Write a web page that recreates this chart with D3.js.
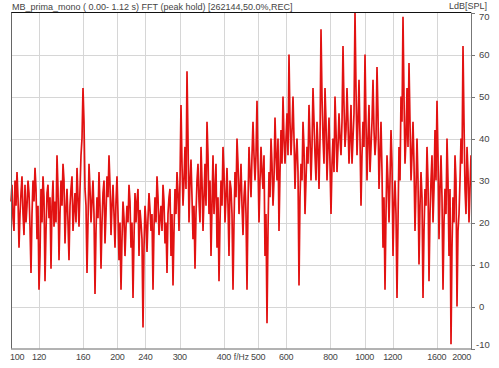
<!DOCTYPE html>
<html>
<head>
<meta charset="utf-8">
<script src="https://cdn.jsdelivr.net/npm/d3@7"></script>
<style>
  body { margin: 0; background: #fff; }
  svg text { font-family: "Liberation Sans", Arial, sans-serif; fill: #444; }
</style>
</head>
<body>
<svg id="chart" width="499" height="368"></svg>
<script>
// spectrum, one level per display column (log-spaced from 100 Hz to 2 kHz)
const fStart = 100, fEnd = 2000;
const levels = [
  25, 29, 21, 18, 30, 24, 32, 26, 14, 22, 27, 31, 22, 17, 29, 20, 24, 30, 27, 19,
  8, 22, 30, 25, 33, 28, 16, 24, 4, 12, 28, 20, 31, 26, 6, 18, 27, 29, 21, 26,
  9, 24, 30, 19, 25, 20, 36, 28, 11, 22, 30, 24, 34, 30, 15, 23, 28, 20, 11, 24,
  28, 31, 18, 23, 27, 20, 33, 26, 19, 28, 36, 40, 52, 44, 28, 24, 8, 20, 34, 28,
  20, 25, 30, 22, 3, 18, 26, 21, 32, 24, 9, 20, 27, 30, 15, 22, 31, 26, 36, 29,
  17, 24, 29, 22, 14, 25, 31, 22, 11, 20, 4, 16, 25, 21, 12, 19, 24, 20, 29, 25,
  14, 20, 2, 16, 27, 20, 25, 28, 12, 23, 20, 16, -5, 14, 24, 20, 13, 21, 27, 23,
  18, 22, 4, 19, 26, 20, 31, 26, 17, 21, 24, 18, 29, 25, 15, 20, 8, 22, 26, 28,
  12, 22, 5, 18, 28, 22, 32, 27, 18, 30, 48, 34, 24, 30, 38, 28, 56, 40, 20, 30,
  35, 26, 16, 24, 9, 22, 30, 34, 25, 20, 38, 30, 18, 26, 34, 24, 44, 36, 22, 30,
  12, 24, 36, 22, 28, 34, 14, 26, 6, 20, 30, 24, 38, 32, 20, 26, 33, 24, 12, 30,
  28, 22, 4, 20, 32, 26, 40, 34, 22, 28, 34, 24, 17, 26, 30, 22, 4, 24, 38, 32,
  26, 36, 44, 36, 30, 36, 49, 34, 20, 30, 38, 32, 28, 36, 12, 22, -4, 18, 32, 26,
  40, 34, 24, 30, 45, 36, 30, 40, 18, 32, 42, 34, 50, 40, 34, 40, 46, 36, 60, 44,
  36, 42, 50, 40, 28, 36, 40, 32, 5, 26, 34, 30, 44, 38, 22, 30, 38, 34, 48, 40,
  30, 38, 52, 44, 36, 30, 44, 38, 28, 40, 66, 50, 40, 34, 52, 44, 30, 38, 45, 34,
  22, 34, 40, 32, 50, 42, 32, 38, 46, 40, 36, 44, 62, 48, 38, 42, 52, 44, 34, 40,
  48, 34, 40, 46, 70, 52, 36, 44, 54, 40, 24, 36, 44, 38, 60, 44, 30, 40, 48, 32,
  38, 44, 54, 42, 36, 40, 57, 46, 28, 36, 44, 32, 14, 26, 4, 22, 36, 30, 20, 30,
  42, 34, 12, 24, 30, 22, 2, 20, 38, 30, 50, 44, 69, 50, 34, 40, 52, 38, 58, 44,
  30, 36, 44, 34, 18, 28, 40, 30, 10, 24, 32, 26, 2, 18, 28, 24, 38, 30, 6, 22,
  30, 36, 20, 28, 42, 30, 49, 36, 16, 28, 36, 26, 4, 20, 28, 22, 40, 30, 12, 28,
  -9, 14, 26, 20, 36, 30, 0, 18, 22, 30, 40, 34, 62, 44, 28, 22, 38, 32, 20, 28,
  36
];
const xTicks = [100, 120, 160, 200, 240, 300, 400, 500, 600, 800, 1000, 1200, 1600, 2000];
const yTicks = [70, 60, 50, 40, 30, 20, 10, 0, -10];

const titleText = "MB_prima_mono ( 0.00- 1.12 s) FFT (peak hold) [262144,50.0%,REC]";
const unitText = "LdB[SPL]";

const spectrum = levels.map((v, i) => ({
  f: fStart * Math.pow(fEnd / fStart, i / (levels.length - 1)),
  v: v
}));

const plotL = 11, plotR = 471, plotT = 12.5, plotB = 348.5;
const svg = d3.select("#chart");

const x = d3.scaleLog().domain([fStart, fEnd]).range([plotL, plotR]);
const y = d3.scaleLinear().domain([-10, 70]).range([plotB, plotT]);

// grid
svg.append("g")
  .selectAll("line")
  .data(xTicks.slice(1, -1))
  .join("line")
  .attr("x1", d => Math.round(x(d)) + 0.5)
  .attr("x2", d => Math.round(x(d)) + 0.5)
  .attr("y1", plotT)
  .attr("y2", plotB)
  .attr("stroke", "#d6d6d6");

svg.append("g")
  .selectAll("line")
  .data(yTicks.slice(1, -1))
  .join("line")
  .attr("x1", plotL)
  .attr("x2", plotR)
  .attr("y1", d => Math.round(y(d)) + 0.5)
  .attr("y2", d => Math.round(y(d)) + 0.5)
  .attr("stroke", "#d6d6d6");

// spectrum line
const line = d3.line()
  .x(d => x(d.f))
  .y(d => y(d.v));

svg.append("path")
  .datum(spectrum)
  .attr("fill", "none")
  .attr("stroke", "#e21212")
  .attr("stroke-width", 1.7)
  .attr("d", line);

// frame
svg.append("line").attr("x1", plotL).attr("x2", plotR).attr("y1", 12.5).attr("y2", 12.5).attr("stroke", "#111");
svg.append("line").attr("x1", plotL + 0.5).attr("x2", plotL + 0.5).attr("y1", plotT).attr("y2", plotB).attr("stroke", "#666");
svg.append("line").attr("x1", plotL).attr("x2", plotR).attr("y1", plotB + 0.5).attr("y2", plotB + 0.5).attr("stroke", "#666");
svg.append("line").attr("x1", plotR + 0.5).attr("x2", plotR + 0.5).attr("y1", plotT).attr("y2", plotB + 1).attr("stroke", "#777");

// right axis
const yAxis = svg.append("g");
yAxis.selectAll("line")
  .data(yTicks)
  .join("line")
  .attr("x1", plotR)
  .attr("x2", plotR + 4)
  .attr("y1", d => Math.round(y(d)) + 0.5)
  .attr("y2", d => Math.round(y(d)) + 0.5)
  .attr("stroke", "#777");
yAxis.selectAll("text")
  .data(yTicks)
  .join("text")
  .attr("x", d => d < 0 ? plotR + 5 : plotR + 8)
  .attr("y", d => d === 70 ? y(d) + 7.5 : d === -10 ? y(d) - 1 : y(d) + 3.5)
  .style("font-size", "9.5px")
  .text(d => d);

// bottom axis
svg.append("g")
  .selectAll("text")
  .data(xTicks)
  .join("text")
  .attr("x", d => d === fStart ? plotL - 1 : d === fEnd ? plotR : x(d))
  .attr("y", 360)
  .attr("text-anchor", d => d === fStart ? "start" : d === fEnd ? "end" : "middle")
  .style("font-size", "9px")
  .style("letter-spacing", "-0.3px")
  .text(d => d);

svg.append("text")
  .attr("x", x(400) + 10)
  .attr("y", 360)
  .style("font-size", "8.5px")
  .text("f/Hz");

// header
svg.append("text")
  .attr("x", 12)
  .attr("y", 9.5)
  .style("font-size", "9px")
  .text(titleText);

svg.append("text")
  .attr("x", 487)
  .attr("y", 9)
  .attr("text-anchor", "end")
  .style("font-size", "9px")
  .text(unitText);
</script>
</body>
</html>
